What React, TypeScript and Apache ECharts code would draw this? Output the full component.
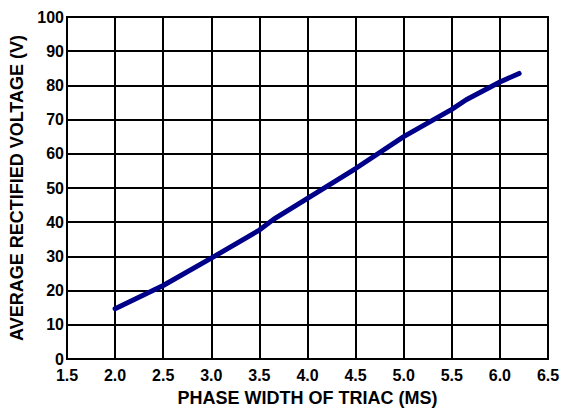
import React, { useEffect, useRef } from "react";
import * as echarts from "echarts";

const phaseWidth = [2.0, 2.5, 3.0, 3.5, 3.65, 4.0, 4.5, 5.0, 5.5, 5.65, 6.0, 6.2];
const avgVoltage = [14.7, 21.5, 29.5, 37.7, 40.9, 47.0, 55.7, 65.0, 73.0, 75.8, 81.0, 83.5];
const xTitle = "PHASE WIDTH OF TRIAC (MS)";
const yTitle = "AVERAGE RECTIFIED VOLTAGE (V)";

export default function App() {
  const ref = useRef<HTMLDivElement>(null);
  useEffect(() => {
    if (!ref.current) return;
    const chart = echarts.init(ref.current, null, { renderer: "svg" });
    const font = "'Liberation Sans', Arial, sans-serif";
    chart.setOption({
      animation: false,
      backgroundColor: "#ffffff",
      grid: {
        left: 66,
        right: 17,
        top: 17,
        bottom: 54,
        show: true,
        borderColor: "#000",
        borderWidth: 2,
        backgroundColor: "transparent",
      },
      xAxis: {
        type: "value",
        min: 1.5,
        max: 6.5,
        interval: 0.5,
        name: xTitle,
        nameLocation: "middle",
        nameGap: 30,
        nameTextStyle: { fontFamily: font, fontWeight: "bold", fontSize: 18, color: "#000" },
        axisLine: { show: true, lineStyle: { color: "#000", width: 2 } },
        axisTick: { show: false },
        axisLabel: {
          margin: 8,
          fontFamily: font,
          fontWeight: "bold",
          fontSize: 16,
          color: "#000",
          formatter: (v: number) => v.toFixed(1),
        },
        splitLine: { show: true, lineStyle: { color: "#000", width: 2 } },
      },
      yAxis: {
        type: "value",
        min: 0,
        max: 100,
        interval: 10,
        name: yTitle,
        nameLocation: "middle",
        nameGap: 41,
        nameTextStyle: { fontFamily: font, fontWeight: "bold", fontSize: 18, color: "#000" },
        axisLine: { show: true, lineStyle: { color: "#000", width: 2 } },
        axisTick: { show: false },
        axisLabel: {
          margin: 3,
          fontFamily: font,
          fontWeight: "bold",
          fontSize: 16,
          color: "#000",
        },
        splitLine: { show: true, lineStyle: { color: "#000", width: 2 } },
      },
      series: [
        {
          type: "line",
          data: phaseWidth.map((x, i) => [x, avgVoltage[i]]),
          showSymbol: false,
          smooth: false,
          lineStyle: { color: "#000088", width: 5, cap: "round", join: "round" },
        },
      ],
    });
    return () => chart.dispose();
  }, []);
  return <div ref={ref} style={{ width: 565, height: 413, position: "fixed", left: 0, top: 0 }} />;
}
